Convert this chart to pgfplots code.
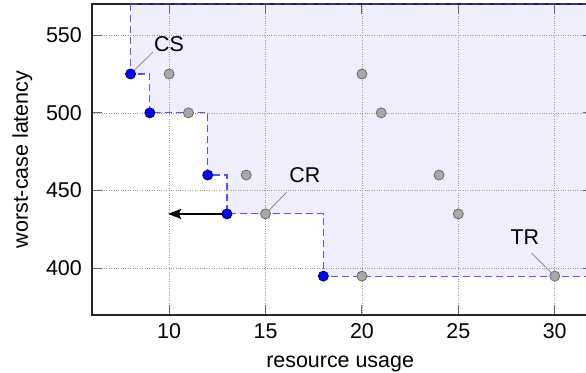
\documentclass[border=0pt]{standalone}
\usepackage{fontspec}
\setmainfont{Liberation Sans}
\usepackage{pgfplots}
\pgfplotsset{compat=1.18}
\usetikzlibrary{arrows.meta}
\definecolor{regfill}{RGB}{238,238,252}
\definecolor{stepblue}{RGB}{85,85,255}
\definecolor{ptgray}{RGB}{168,168,168}
\definecolor{ptedge}{RGB}{105,105,105}
\definecolor{blueedge}{RGB}{0,0,90}
\begin{document}
\begin{tikzpicture}
\begin{axis}[
  name=ax, at={(0,0)}, anchor=south west,
  scale only axis, width=501.3bp, height=311bp,
  xmin=6, xmax=32, ymin=370, ymax=570,
  xtick={10,15,20,25,30}, ytick={400,450,500,550},
  set layers=standard,
  grid=major, grid style={dotted, black!40, line width=0.6bp},
  major tick length=10bp,
  tick style={black!60, line width=0.9bp},
  axis line style={black!85, line width=1.3bp},
  tick align=inside,
  /pgf/number format/assume math mode=true,
  ticklabel style={font=\fontsize{21.5}{25}\selectfont},
  xticklabel style={anchor=base, yshift=-23bp, inner sep=0pt},
  yticklabel style={anchor=east, xshift=-10bp, inner sep=0pt},
  xlabel={resource usage}, ylabel={worst-case latency},
  every axis x label/.style={at={(axis description cs:0.495,-0.1672)}, anchor=base, font=\fontsize{21.5}{25}\selectfont},
  every axis y label/.style={at={(axis description cs:-0.1277,0.5)}, rotate=90, anchor=base, font=\fontsize{21.5}{25}\selectfont},
  clip=true,
]
% dominated region (background)
\addplot[fill=regfill, draw=none, on layer=axis background] coordinates {
  (8,570) (8,525) (9,525) (9,500) (12,500) (12,460) (13,460) (13,435)
  (18,435) (18,395) (32,395) (32,570)} -- cycle;
% dashed border of region
\addplot[stepblue, dash pattern=on 7bp off 4bp, line width=1.1bp] coordinates {
  (8,570) (8,525) (9,525) (9,500) (12,500) (12,460) (13,460) (13,435)
  (18,435) (18,395) (32,395)};
\addplot[stepblue!60!black, dash pattern=on 7bp off 4bp, line width=1.1bp] coordinates {(8,570) (32,570)};
% pointer lines
\addplot[black!45, line width=0.8bp] coordinates {(8,525) (9.15,539)};
\addplot[black!45, line width=0.8bp] coordinates {(15,435) (16.1,449)};
\addplot[black!45, line width=0.8bp] coordinates {(30,395) (28.8,409.8)};
% arrow
\addplot[black, line width=2.4bp, -{Stealth[length=13bp, width=10bp, inset=2.5bp]}] coordinates {(13,435) (9.95,435)};
% dominated points
\addplot[only marks, mark=*, mark size=5bp, mark options={fill=ptgray, draw=ptedge, line width=0.8bp}] coordinates {
  (10,525) (11,500) (14,460) (15,435) (20,525) (21,500) (24,460) (25,435) (20,395) (30,395)};
% Pareto points
\addplot[only marks, mark=*, mark size=5bp, mark options={fill=blue, draw=blueedge, line width=0.8bp}] coordinates {
  (8,525) (9,500) (12,460) (13,435) (18,395)};
\node[font=\fontsize{21.5}{25}\selectfont] at (axis cs:10,544.5) {CS};
\node[font=\fontsize{21.5}{25}\selectfont] at (axis cs:17.04,459.7) {CR};
\node[font=\fontsize{21.5}{25}\selectfont] at (axis cs:28.45,420) {TR};
\end{axis}
\pgfresetboundingbox
\path[use as bounding box] (-92bp,-58bp) rectangle (494bp,315bp);
\end{tikzpicture}
\end{document}
